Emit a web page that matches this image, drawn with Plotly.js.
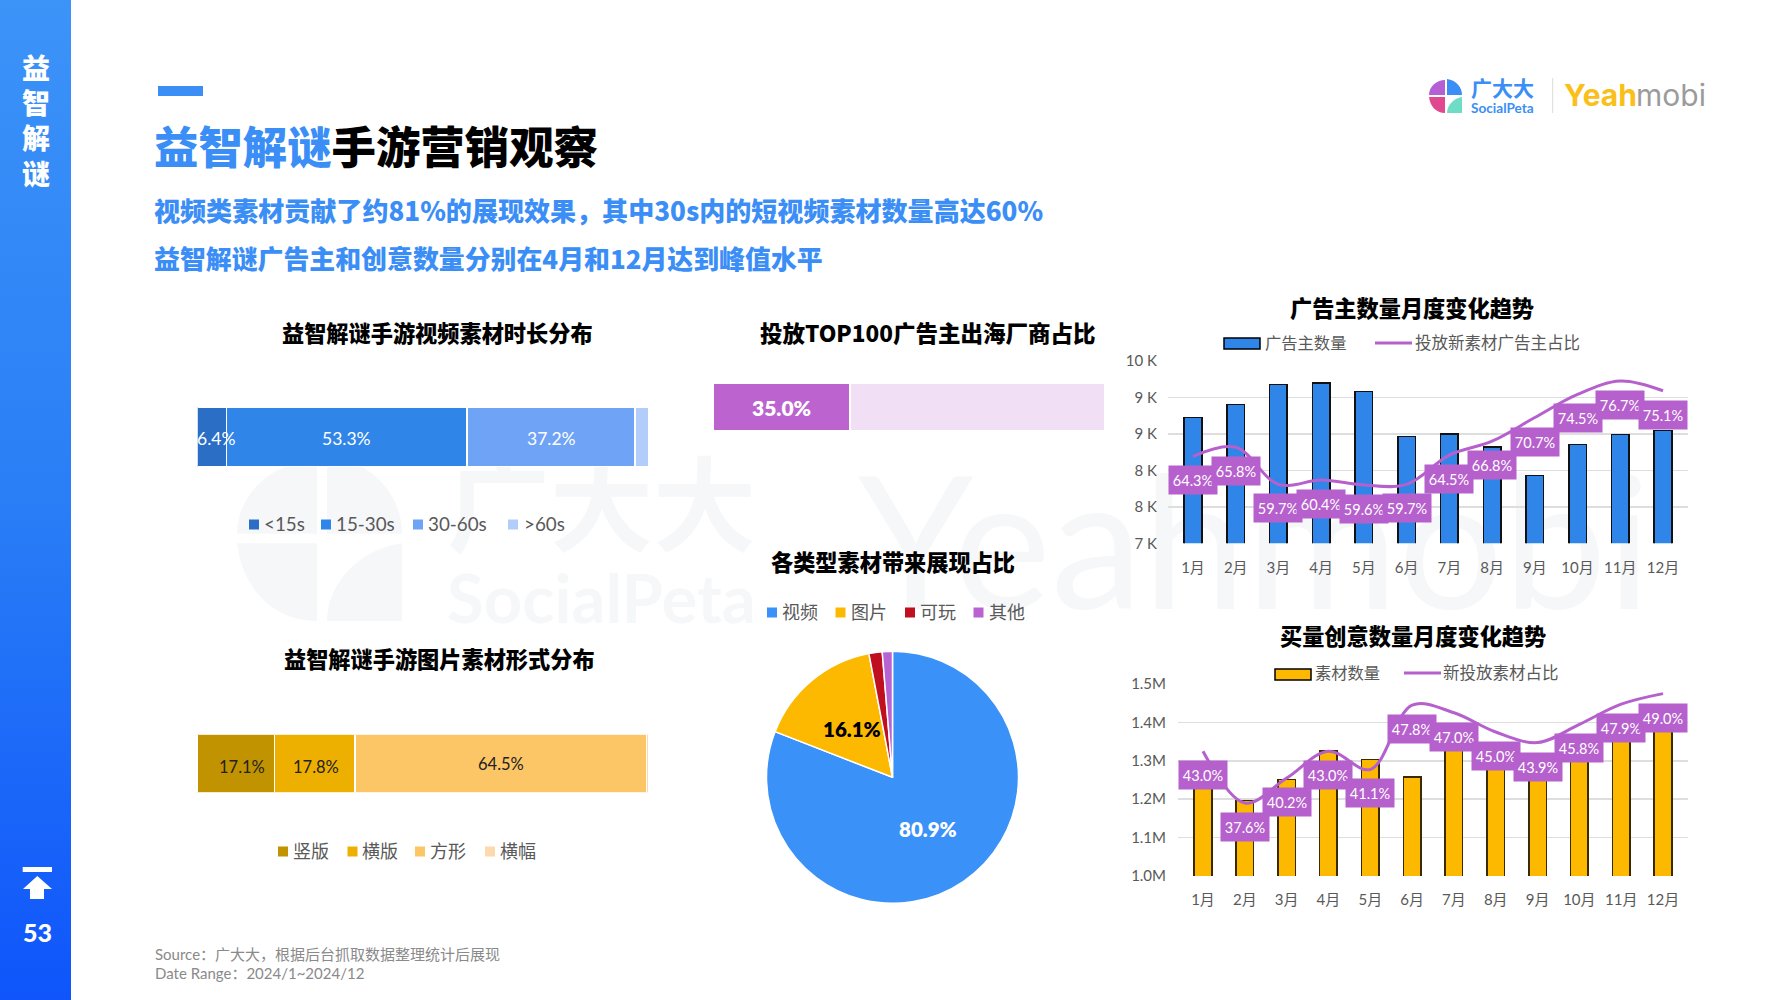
<!DOCTYPE html>
<html><head><meta charset="utf-8">
<script src="https://cdn.plot.ly/plotly-3.0.1.min.js"></script>
<style>
html,body{margin:0;padding:0;background:#fff;overflow:hidden}
#stage{position:relative;width:1778px;height:1000px;overflow:hidden;background:#fff}
#side{position:absolute;left:0;top:0;width:71px;height:1000px;background:linear-gradient(180deg,#3c93f8 0%,#2a7ef6 50%,#0f55fb 100%)}
.wm{position:absolute;color:#f6f7f9;font-family:'Lato','Noto Sans CJK SC',sans-serif;font-weight:700;white-space:nowrap;line-height:1}
svg.abs{position:absolute}
#plot{position:absolute;left:0;top:0;width:1778px;height:1000px}
</style></head><body>
<div id="stage">
<div id="side"></div>
<svg class="abs" style="left:237px;top:456px" width="170" height="165" viewBox="0 0 34 34" preserveAspectRatio="none"><g fill="#f6f7f9"><path d="M16 1C7 1 0 8 0 16H16Z"/><path d="M18 0C27 1 33 8 33 16H18Z"/><path d="M0 18H16V34C7 34 1 27 0 18Z"/><path d="M33 18V34H18C18 26 25 19 33 18Z"/></g></svg>
<div class="wm" style="left:447px;top:448px;font-size:103px;font-family:'Noto Sans CJK SC'">广大大</div>
<div class="wm" style="left:447px;top:564px;font-size:67px">SocialPeta</div>
<div class="wm" style="left:858px;top:445px;font-size:185px;font-weight:400">Yeahmobi</div>
<svg class="abs" style="left:1429px;top:79px" width="34" height="34" viewBox="0 0 34 34"><path fill="#b45fd3" d="M16 1C7 1 0 8 0 16H16Z"/><path fill="#3a8ef6" d="M18 0C27 1 33 8 33 16H18Z"/><path fill="#e0488f" d="M0 18H16V34C7 34 1 27 0 18Z"/><path fill="#6fdcc5" d="M33 18V34H18C18 26 25 19 33 18Z"/></svg>
<svg class="abs" style="left:20px;top:865px" width="36" height="36" viewBox="0 0 36 36"><path fill="#fff" d="M2.700 2H32V7H2.700Z"/><path fill="#fff" d="M17.300 11L32 24H24V34H10V24H3Z"/></svg>
<div id="plot"></div>
</div>
<script>
// ---------- data ----------
const months = ['1月','2月','3月','4月','5月','6月','7月','8月','9月','10月','11月','12月'];
const advertiserCount = [9068,9287,9611,9638,9496,8761,8800,8585,8113,8629,8794,8860];
const advertiserNewShare = [64.3,65.8,59.7,60.4,59.6,59.7,64.5,66.8,70.7,74.5,76.7,75.1];
const advTickVals = [7000,7600,8200,8800,9400,10000];
const advTickText = ['7 K','8 K','8 K','9 K','9 K','10 K'];
const creativeCount = [1.25,1.196,1.251,1.325,1.303,1.258,1.335,1.285,1.26,1.30,1.37,1.40];
const creativeNewShare = [43.0,37.6,40.2,43.0,41.1,47.8,47.0,45.0,43.9,45.8,47.9,49.0];
const creTickVals = [1.0,1.1,1.2,1.3,1.4,1.5];
const creTickText = ['1.0M','1.1M','1.2M','1.3M','1.4M','1.5M'];
const videoLenCats = ['<15s','15-30s','30-60s','>60s'];
const videoLenVals = [6.4,53.3,37.2,3.1];
const videoLenColors = ['#2a6fc5','#2f86e8','#6fa3f6','#b3cdfb'];
const imageFmtCats = ['竖版','横版','方形','横幅'];
const imageFmtVals = [17.1,17.8,64.5,0.6];
const imageFmtColors = ['#c29300','#eeb000','#fcc566','#fdd9ae'];
const top100Cats = ['出海厂商','其他'];
const top100Vals = [35.0,65.0];
const top100Colors = ['#bc63cf','#f0dff5'];
const pieCats = ['视频','图片','可玩','其他'];
const pieVals = [80.9,16.1,1.7,1.3];
const pieColors = ['#3a91f7','#fcb900','#c00f1e','#b963d2'];
const pieLabelColors = ['#fff','#000',null,null];
const sideChars = ['益','智','解','谜'];

// ---------- helpers ----------
const W=1778,H=1000;
const px=x=>x/W, py=y=>1-y/H;
const LAT="Lato,'Noto Sans CJK SC',sans-serif", CJK="'Noto Sans CJK SC',sans-serif";
const PURPLE='#b660cd', BLUE='#3a8ef6', GREY='#595959';
const anns=[], shapes=[];
function note(text,x,y,size,color,o={}){
  const font={family:o.family||LAT,size,color,weight:o.weight||400};
  anns.push(Object.assign({text,x:px(x),y:py(y),xref:'paper',yref:'paper',xanchor:'center',yanchor:'middle',showarrow:false,font},o.extra||{}));
}
function rect(x0,y0,x1,y1,fill,line){
  shapes.push({type:'rect',xref:'paper',yref:'paper',x0:px(x0),x1:px(x1),y0:py(y0),y1:py(y1),fillcolor:fill,
    line:line?{color:line,width:1.5}:{width:0}});
}
function lineSw(x0,x1,y,color){
  shapes.push({type:'line',xref:'paper',yref:'paper',x0:px(x0),x1:px(x1),y0:py(y),y1:py(y),line:{color,width:3}});
}
const left={xanchor:'left'};
function title(t,x,y,size){note(t,x,y,size||22.2,'#000',{family:CJK,weight:900});}

// ---------- page text ----------
sideChars.forEach((c,i)=>note(c,35.5,66.5+i*35.4,28,'#fff',{family:CJK,weight:900}));
note('53',37,932,25,'#fff',{weight:900});
rect(158,86,203,96,BLUE);
note('<span style="color:#3a8ef6">益智解谜</span>手游营销观察',152,144.5,44.4,'#000',{family:CJK,weight:900,extra:left});
note('视频类素材贡献了约81%的展现效果，其中30s内的短视频素材数量高达60%',152,209.5,26.05,BLUE,{family:CJK,weight:900,extra:left});
note('益智解谜广告主和创意数量分别在4月和12月达到峰值水平',152,257.5,25.9,BLUE,{family:CJK,weight:900,extra:left});
note('Source：广大大，根据后台抓取数据整理统计后展现',153,954,15,'#8a8a8a',{extra:left});
note('Date Range：2024/1~2024/12',153,972.5,15,'#8a8a8a',{extra:left});
note('广大大',1468.5,87,21,BLUE,{family:CJK,weight:700,extra:left});
note('SocialPeta',1468.5,108,13.6,BLUE,{weight:700,extra:left});
note('Yeah',1561.5,95,30,'#f9bf1a',{family:'Inter,sans-serif',weight:700,extra:left});
note('mobi',1633.5,95,30,'#9b9b9b',{family:'Inter,sans-serif',weight:400,extra:left});
shapes.push({type:'line',xref:'paper',yref:'paper',x0:px(1552.7),x1:px(1552.7),y0:py(78),y1:py(113),line:{color:'#dcdcdc',width:1}});

title('益智解谜手游视频素材时长分布',437.5,332);
title('投放TOP100广告主出海厂商占比',927,332,22.5);
title('各类型素材带来展现占比',892.5,561);
title('益智解谜手游图片素材形式分布',439.5,658);
title('广告主数量月度变化趋势',1412,307);
title('买量创意数量月度变化趋势',1412.5,635);

// ---------- small legends ----------
function sqLegend(cats,colors,sqX,txtX,y,size,sq){
  cats.forEach((c,i)=>{rect(sqX[i],y-sq/2+1,sqX[i]+sq,y+sq/2+1,colors[i]);note(c,txtX[i],y,size,GREY,{extra:left});});
}
sqLegend(videoLenCats,videoLenColors,[249,321,413,508],[262,333.500,425.500,521.500],523.5,18.8,10);
sqLegend(imageFmtCats,imageFmtColors,[278,347.500,415,485],[291,360,428,498],850.5,18,10);
sqLegend(pieCats,pieColors,[767,835.500,905,973.500],[780,848.500,918,987],611.5,18,10);
rect(1224,338,1260,349,'#2f86e8','#000');
note('广告主数量',1262.5,342.5,16.3,GREY,{extra:left});
lineSw(1375,1412,343,PURPLE);
note('投放新素材广告主占比',1412.5,342.5,16.5,GREY,{extra:left});
rect(1275,669,1311,680,'#fcb900','#000');
note('素材数量',1312.5,672.5,16.3,GREY,{extra:left});
lineSw(1404,1441,673,PURPLE);
note('新投放素材占比',1441,672.5,16.5,GREY,{extra:left});

// ---------- axes ----------
const dom=(a,b)=>[px(a),px(b)], domY=(t,b)=>[py(b),py(t)];
const tickFont={family:LAT,size:15,color:GREY};
function catAxis(d,anchor,len){return {domain:d,anchor,type:'category',fixedrange:true,showgrid:false,zeroline:false,showline:false,
  ticks:'outside',ticklen:len,tickcolor:'rgba(0,0,0,0)',tickfont:tickFont,categoryorder:'array',categoryarray:months};}
function valAxis(d,anchor,range,vals,text,len){return {domain:d,anchor,range,tickvals:vals,ticktext:text,tickmode:'array',showgrid:true,
  gridcolor:'#dedede',gridwidth:1.5,zeroline:false,showline:false,ticks:'outside',ticklen:len,tickcolor:'rgba(0,0,0,0)',tickfont:tickFont};}
function over(base,anchor,range){return {overlaying:base,anchor,side:'right',range,visible:false,showgrid:false,zeroline:false};}
function hidden(d,anchor,range){return {domain:d,anchor,range,visible:false,showgrid:false,zeroline:false,fixedrange:true};}

const layout={width:W,height:H,margin:{l:0,r:0,t:0,b:0},paper_bgcolor:'rgba(0,0,0,0)',plot_bgcolor:'rgba(0,0,0,0)',
  barmode:'stack',showlegend:false,
  xaxis:catAxis(dom(1168,1688),'y',11),
  yaxis:valAxis(domY(361,543.3),'x',[7000,10000],advTickVals,advTickText,7),
  yaxis2:over('y','x',[50,80]),
  xaxis2:catAxis(dom(1178,1688),'y3',10),
  yaxis3:valAxis(domY(684,876),'x2',[1.0,1.5],creTickVals,creTickText,8),
  yaxis4:over('y3','x2',[30,50]),
  xaxis3:hidden(dom(197.4,649),'y5',[0,100]),
  yaxis5:hidden(domY(407,467),'x3',[-0.5,0.5]),
  xaxis4:hidden(dom(713,1105),'y6',[0,100]),
  yaxis6:hidden(domY(383,431),'x4',[-0.5,0.5]),
  xaxis5:hidden(dom(197,649),'y7',[0,100]),
  yaxis7:hidden(domY(734.3,792.7),'x5',[-0.5,0.5]),
  annotations:anns,shapes:shapes
};

// ---------- traces ----------
const traces=[];
function combo(x,y,l,xa,ya,ya2,color,barW,edge){
  traces.push({type:'bar',x,y,xaxis:xa,yaxis:ya,width:barW,marker:{color,line:{color:edge,width:1.5}},hoverinfo:'skip'});
  traces.push({type:'scatter',mode:'lines',x,y:l,xaxis:xa,yaxis:ya2,line:{color:PURPLE,width:3,shape:'spline',smoothing:1},hoverinfo:'skip'});
  x.forEach((m,i)=>anns.push({text:l[i].toFixed(1)+'%',x:m,y:l[i],xref:xa,yref:ya2,yshift:-24,showarrow:false,xanchor:'center',yanchor:'middle',
    width:48,height:28,bgcolor:PURPLE,borderpad:0,font:{family:LAT,size:14.5,color:'#fff'}}));
}
combo(months,advertiserCount,advertiserNewShare,'x','y','y2','#2f86e8',0.41,'#111');
combo(months,creativeCount,creativeNewShare,'x2','y3','y4','#fcb900',0.42,'#3a2a00');

function stack(vals,colors,xa,ya,cats,labelColor,size,weight,shifts,yshifts){
  let cum=0;
  vals.forEach((v,i)=>{
    traces.push({type:'bar',orientation:'h',name:cats[i],x:[v],y:[0],xaxis:xa,yaxis:ya,width:1,
      marker:{color:colors[i],line:{color:'#fff',width:1.5}},hoverinfo:'skip'});
    if(shifts[i]!==null) anns.push({text:v.toFixed(1)+'%',x:cum+v/2,y:0,xref:xa,yref:ya,showarrow:false,xshift:shifts[i],yshift:yshifts[i],
      font:{family:LAT,size,color:labelColor,weight}});
    cum+=v;
  });
}
stack(videoLenVals,videoLenColors,'x3','y5',videoLenCats,'#fff',17.5,400,[4,0,0,null],[-1,-1,-1,0]);
stack(top100Vals,top100Colors,'x4','y6',top100Cats,'#fff',21,800,[0,null],[0,0]);
stack(imageFmtVals,imageFmtColors,'x5','y7',imageFmtCats,'#222',16.5,400,[6,1,0,null],[-3,-3,0,0]);

// pie: slices drawn by the library, two big labels placed on each slice's bisector
const PIE_CX=892.5, PIE_CY=777.3, PIE_R=126, LABEL_R=63;
traces.push({type:'pie',labels:pieCats,values:pieVals,textinfo:'none',
  sort:false,direction:'clockwise',rotation:0,marker:{colors:pieColors,line:{color:'#fff',width:1.5}},
  domain:{x:dom(PIE_CX-PIE_R,PIE_CX+PIE_R),y:domY(PIE_CY-PIE_R,PIE_CY+PIE_R)},hoverinfo:'skip'});
const pieTotal=pieVals.reduce((a,b)=>a+b,0);
let pieCum=0;
pieVals.forEach((v,i)=>{
  const a=(pieCum+v/2)/pieTotal*2*Math.PI; pieCum+=v;
  if(pieLabelColors[i]) note(v.toFixed(1)+'%',PIE_CX+LABEL_R*Math.sin(a),PIE_CY-LABEL_R*Math.cos(a),20.5,pieLabelColors[i],{weight:800});
});

Plotly.newPlot('plot',traces,layout,{displayModeBar:false,staticPlot:true});
</script>
</body></html>
